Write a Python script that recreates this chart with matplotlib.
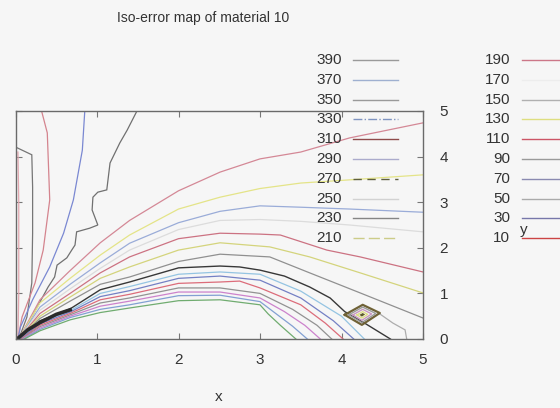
import matplotlib
matplotlib.use("Agg")
import matplotlib.pyplot as plt
from matplotlib.lines import Line2D

plt.rcParams['font.family'] = ['Liberation Sans', 'DejaVu Sans']

title = "Iso-error map of material 10"
x_ticks = [0, 1, 2, 3, 4, 5]
y_ticks = [0, 1, 2, 3, 4, 5]

# ---- key (two columns) ----
key_levels_left = [390, 370, 350, 330, 310, 290, 270, 250, 230, 210]
key_colors_left = ['#9a9a9a', '#9fb0d0', '#9a9a9a', '#7f94c0', '#8e4a4a',
                   '#ababcc', '#5e5e40', '#d2d2d2', '#858585', '#cccc88']
key_styles_left = ['-', '-', '-', '-.', '-', '-', (0, (6, 4)), '-', '-', (0, (8, 3))]
key_levels_right = [190, 170, 150, 130, 110, 90, 70, 50, 30, 10]
key_colors_right = ['#cc7788', '#ededed', '#b0b0b0', '#dede80', '#cc5566',
                    '#9a9a9a', '#8a8ab0', '#aaaaaa', '#7777aa', '#cc4444']

# ---- iso-error lines (x, y) ----
edge_pink_x = [0.03, 0.04, 0.04, 0.04, 0.03]
edge_pink_y = [4.10, 3.00, 2.00, 1.00, 0.00]

left_gray_x = [0.00, 0.20, 0.21, 0.21, 0.20, 0.14, 0.04]
left_gray_y = [4.21, 4.04, 3.33, 2.32, 1.23, 0.48, 0.00]

steep_red_x = [0.32, 0.39, 0.42, 0.34, 0.24, 0.08, 0.03]
steep_red_y = [5.00, 4.52, 3.05, 1.95, 1.23, 0.48, 0.00]

steep_blue_x = [0.85, 0.82, 0.71, 0.59, 0.42, 0.21, 0.06, 0.03]
steep_blue_y = [5.00, 4.14, 3.05, 2.32, 1.58, 0.86, 0.26, 0.00]

jagged_x = [1.49, 1.37, 1.28, 1.16, 1.12, 1.01, 0.95, 0.94, 1.01, 0.91, 0.75,
            0.73, 0.69, 0.63, 0.51, 0.48, 0.40, 0.22, 0.05]
jagged_y = [5.00, 4.58, 4.30, 3.86, 3.27, 3.22, 3.11, 2.83, 2.50, 2.43, 2.35,
            2.06, 1.95, 1.78, 1.62, 1.36, 1.14, 0.55, 0.00]

red1_x = [0.04, 0.30, 0.67, 1.04, 1.40, 2.00, 2.51, 3.00, 3.50, 4.10, 5.00]
red1_y = [0.00, 0.86, 1.50, 2.11, 2.60, 3.25, 3.66, 3.95, 4.10, 4.41, 4.74]

yellow1_x = [0.04, 0.30, 0.67, 1.04, 1.40, 2.00, 2.51, 3.00, 3.50, 4.10, 5.00]
yellow1_y = [0.00, 0.79, 1.33, 1.84, 2.28, 2.85, 3.11, 3.30, 3.42, 3.49, 3.60]

blue1_x = [0.04, 0.30, 0.67, 1.04, 1.40, 2.00, 2.51, 3.00, 3.50, 4.10, 5.00]
blue1_y = [0.00, 0.70, 1.20, 1.67, 2.10, 2.55, 2.80, 2.92, 2.89, 2.85, 2.78]

faint_x = [0.04, 0.30, 0.67, 1.04, 1.40, 2.00, 2.51, 3.00, 3.50, 4.10, 5.00]
faint_y = [0.00, 0.63, 1.10, 1.55, 1.95, 2.40, 2.60, 2.62, 2.58, 2.50, 2.35]

red2_x = [0.04, 0.30, 0.67, 1.04, 1.40, 2.00, 2.51, 3.00, 3.25, 3.82, 4.23, 5.00]
red2_y = [0.00, 0.56, 1.00, 1.45, 1.80, 2.20, 2.32, 2.30, 2.28, 1.95, 1.80, 1.47]

yellow2_x = [0.04, 0.30, 0.67, 1.04, 1.40, 2.00, 2.51, 3.12, 3.61, 4.23, 5.00]
yellow2_y = [0.00, 0.50, 0.92, 1.33, 1.58, 1.95, 2.11, 2.02, 1.80, 1.45, 1.01]

gray1_x = [0.04, 0.30, 0.67, 1.04, 1.40, 2.00, 2.51, 3.12, 3.61, 4.23, 5.00]
gray1_y = [0.00, 0.45, 0.83, 1.20, 1.36, 1.70, 1.86, 1.80, 1.45, 1.01, 0.46]

black_x = [0.04, 0.30, 0.67, 1.04, 1.40, 2.00, 2.51, 2.75, 3.00, 3.30, 3.61,
           3.86, 4.04, 4.30, 4.60]
black_y = [0.00, 0.40, 0.66, 1.08, 1.25, 1.56, 1.60, 1.58, 1.51, 1.38, 1.14,
           0.90, 0.60, 0.33, 0.00]

core_x = [0.02, 0.15, 0.30, 0.50, 0.67]
core_y = [0.00, 0.20, 0.36, 0.54, 0.64]

lblue_x = [0.06, 0.30, 0.67, 1.04, 1.40, 2.00, 2.51, 3.00, 3.50, 4.00, 4.28]
lblue_y = [0.00, 0.36, 0.62, 1.00, 1.15, 1.42, 1.47, 1.42, 1.05, 0.50, 0.00]

blue2_x = [0.06, 0.30, 0.67, 1.04, 1.40, 2.00, 2.51, 3.00, 3.50, 3.90, 4.15]
blue2_y = [0.00, 0.33, 0.59, 0.93, 1.06, 1.33, 1.38, 1.29, 0.90, 0.40, 0.00]

red3_x = [0.07, 0.30, 0.67, 1.04, 1.40, 2.00, 2.51, 2.75, 3.00, 3.50, 3.80, 4.02]
red3_y = [0.00, 0.30, 0.56, 0.86, 0.98, 1.22, 1.25, 1.27, 1.12, 0.75, 0.35, 0.00]

gray2_x = [0.08, 0.30, 0.67, 1.04, 1.40, 2.00, 2.51, 3.00, 3.40, 3.70, 3.88]
gray2_y = [0.00, 0.27, 0.53, 0.79, 0.90, 1.12, 1.12, 1.00, 0.65, 0.30, 0.00]

magenta_x = [0.09, 0.30, 0.67, 1.04, 1.40, 2.00, 2.51, 3.00, 3.30, 3.55, 3.74]
magenta_y = [0.00, 0.24, 0.50, 0.72, 0.83, 1.03, 1.03, 0.90, 0.60, 0.30, 0.00]

blue3_x = [0.10, 0.30, 0.67, 1.04, 1.40, 2.00, 2.51, 3.00, 3.20, 3.40, 3.58]
blue3_y = [0.00, 0.21, 0.47, 0.65, 0.75, 0.95, 0.96, 0.82, 0.55, 0.28, 0.00]

green_x = [0.11, 0.30, 0.67, 1.04, 1.40, 2.00, 2.51, 3.00, 3.10, 3.25, 3.44]
green_y = [0.00, 0.18, 0.42, 0.58, 0.68, 0.84, 0.86, 0.75, 0.55, 0.30, 0.00]

spur_x = [4.47, 4.63, 4.78, 4.80]
spur_y = [0.55, 0.35, 0.20, 0.00]

# small closed pocket near (4.25, 0.53)
ring1_x = [4.04, 4.26, 4.47, 4.25, 4.04]
ring1_y = [0.53, 0.75, 0.57, 0.31, 0.53]
ring2_x = [4.09, 4.26, 4.42, 4.25, 4.09]
ring2_y = [0.53, 0.70, 0.56, 0.36, 0.53]
ring3_x = [4.14, 4.26, 4.37, 4.25, 4.14]
ring3_y = [0.53, 0.65, 0.55, 0.41, 0.53]
ring4_x = [4.19, 4.26, 4.32, 4.25, 4.19]
ring4_y = [0.53, 0.60, 0.54, 0.46, 0.53]
pocket_x = [4.22, 4.26, 4.29, 4.25, 4.22]
pocket_y = [0.53, 0.57, 0.54, 0.49, 0.53]

W, H = 560, 408
fig = plt.figure(figsize=(W / 100, H / 100), dpi=100, facecolor='#f6f6f6')
L, R, T, B = 15.5, 423, 111, 339
ax = fig.add_axes([L / W, 1 - B / H, (R - L) / W, (B - T) / H])
ax.set_facecolor('#f6f6f6')

lines = [
    (edge_pink_x, edge_pink_y, '#e3a8b0', 0.9, '-'),
    (left_gray_x, left_gray_y, '#767676', 0.9, '-'),
    (steep_red_x, steep_red_y, '#d4848e', 0.9, '-'),
    (steep_blue_x, steep_blue_y, '#7a88d2', 0.9, '-'),
    (jagged_x, jagged_y, '#707070', 0.9, '-'),
    (red1_x, red1_y, '#d48896', 0.9, '-'),
    (yellow1_x, yellow1_y, '#e4e488', 0.9, '-'),
    (blue1_x, blue1_y, '#9aacd8', 0.9, '-'),
    (faint_x, faint_y, '#dcdcdc', 0.9, '-'),
    (red2_x, red2_y, '#cc7282', 0.9, '-'),
    (yellow2_x, yellow2_y, '#d4d47c', 0.9, '-'),
    (gray1_x, gray1_y, '#909090', 0.9, '-'),
    (black_x, black_y, '#383838', 1.0, '-'),
    (lblue_x, lblue_y, '#94c4e2', 0.9, '-'),
    (blue2_x, blue2_y, '#7480c4', 0.9, '-'),
    (red3_x, red3_y, '#dc6c7a', 0.9, '-'),
    (gray2_x, gray2_y, '#929292', 0.9, '-'),
    (magenta_x, magenta_y, '#cc82cc', 0.9, '-'),
    (blue3_x, blue3_y, '#82a0d2', 0.9, '-'),
    (green_x, green_y, '#70ac70', 0.9, '-'),
    (core_x, core_y, '#2a2a2a', 2.6, '-'),
    (spur_x, spur_y, '#adadad', 0.9, '-'),
]
for xs, ys, c, lw, ls in lines:
    ax.plot(xs, ys, color=c, lw=lw, ls=ls, solid_joinstyle='miter')

ax.plot(ring1_x, ring1_y, color='#6f6236', lw=1.6)
ax.plot(ring2_x, ring2_y, color='#9a9a9a', lw=1.0)
ax.plot(ring3_x, ring3_y, color='#c898c0', lw=1.0)
ax.plot(ring4_x, ring4_y, color='#dede88', lw=1.0)
ax.fill(pocket_x, pocket_y, color='#5e5a28', lw=0)

ax.set_xlim(0, 5)
ax.set_ylim(0, 5)
ax.set_xticks(x_ticks)
ax.set_yticks(y_ticks)
ax.set_xticklabels([str(v) for v in x_ticks])
ax.set_yticklabels([str(v) for v in y_ticks])
ax.tick_params(direction='in', length=4, width=0.8, color='#777777',
               top=True, bottom=True, left=True, right=True,
               labelleft=False, labelright=True, labelsize=11,
               labelcolor='#333333')
ax.tick_params(axis='x', pad=10)
ax.tick_params(axis='y', pad=12)
for s in ax.spines.values():
    s.set_color('#6a6a6a')
    s.set_linewidth(1.0)

fig.text(203 / W, 1 - 18 / H, title, ha='center', va='center',
         fontsize=10, color='#333333')
fig.text(219 / W, 1 - 397 / H, 'x', ha='center', va='center',
         fontsize=11, color='#333333')
fig.text(524 / W, 1 - 230 / H, 'y', ha='center', va='center',
         fontsize=11, color='#333333')

# key drawn in pixel positions on the figure
row0, step = 60, 19.8
for i, (lv, c, ls) in enumerate(zip(key_levels_left, key_colors_left, key_styles_left)):
    yy = 1 - (row0 + i * step) / H
    fig.text(342 / W, yy, str(lv), ha='right', va='center', fontsize=11, color='#333333')
    fig.add_artist(Line2D([353 / W, 398 / W], [yy, yy], color=c, lw=1.0, ls=ls))
for i, (lv, c) in enumerate(zip(key_levels_right, key_colors_right)):
    yy = 1 - (row0 + i * step) / H
    fig.text(510 / W, yy, str(lv), ha='right', va='center', fontsize=11, color='#333333')
    fig.add_artist(Line2D([522 / W, 567 / W], [yy, yy], color=c, lw=1.0))

fig.savefig('out.png', dpi=100, facecolor=fig.get_facecolor())
